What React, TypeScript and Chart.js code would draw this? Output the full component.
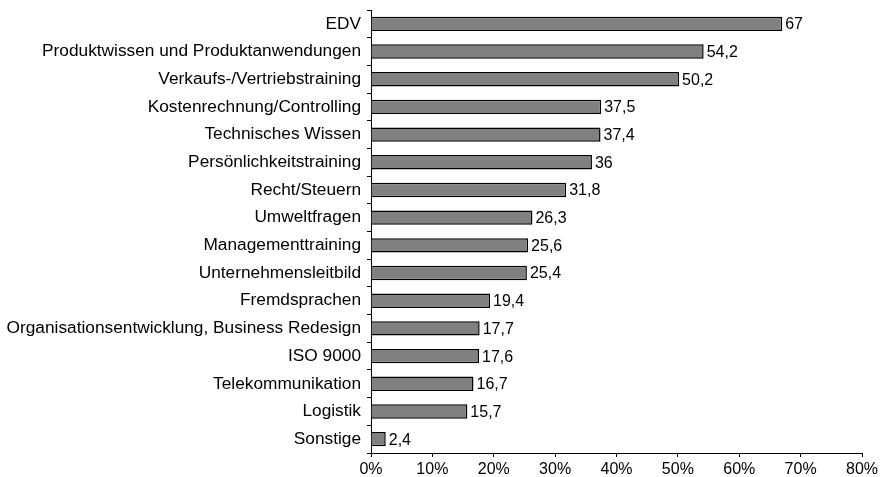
import React, { useEffect, useRef } from "react";
import { Chart, registerables } from "chart.js";

Chart.register(...registerables);

const categories = [
  "EDV",
  "Produktwissen und Produktanwendungen",
  "Verkaufs-/Vertriebstraining",
  "Kostenrechnung/Controlling",
  "Technisches Wissen",
  "Persönlichkeitstraining",
  "Recht/Steuern",
  "Umweltfragen",
  "Managementtraining",
  "Unternehmensleitbild",
  "Fremdsprachen",
  "Organisationsentwicklung, Business Redesign",
  "ISO 9000",
  "Telekommunikation",
  "Logistik",
  "Sonstige",
];

const values = [67, 54.2, 50.2, 37.5, 37.4, 36, 31.8, 26.3, 25.6, 25.4, 19.4, 17.7, 17.6, 16.7, 15.7, 2.4];

const xTicks = [0, 10, 20, 30, 40, 50, 60, 70, 80];

const FONT = "'Liberation Sans', Arial, sans-serif";

const valueLabels = {
  id: "valueLabels",
  afterDatasetsDraw(chart: any) {
    const ctx = chart.ctx;
    const meta = chart.getDatasetMeta(0);
    ctx.save();
    ctx.font = `16px ${FONT}`;
    ctx.fillStyle = "#000";
    ctx.textAlign = "left";
    ctx.textBaseline = "middle";
    meta.data.forEach((bar: any, i: number) => {
      const txt = String(values[i]).replace(".", ",");
      ctx.fillText(txt, bar.x + 3, bar.y + 1);
    });
    ctx.restore();
  },
};

export default function App() {
  const ref = useRef<HTMLCanvasElement>(null);
  useEffect(() => {
    document.body.style.margin = "0";
    const chart = new Chart(ref.current!, {
      type: "bar",
      data: {
        labels: categories,
        datasets: [
          {
            data: values,
            backgroundColor: "#808080",
            borderColor: "#000",
            borderWidth: 1.5,
            barPercentage: 0.52,
            categoryPercentage: 1,
          },
        ],
      },
      options: {
        indexAxis: "y",
        animation: false,
        responsive: false,
        layout: { padding: { left: 0, right: 22, top: 10, bottom: 0 } },
        plugins: { legend: { display: false }, tooltip: { enabled: false } },
        scales: {
          x: {
            min: 0,
            max: 80,
            afterBuildTicks: (s: any) => {
              s.ticks = xTicks.map((v) => ({ value: v }));
            },
            afterFit: (s: any) => {
              s.height = 24;
            },
            grid: { drawOnChartArea: false, drawTicks: true, tickLength: 4, color: "#000" },
            border: { color: "#000", width: 1 },
            ticks: {
              color: "#000",
              padding: 3,
              maxRotation: 0,
              font: { family: FONT, size: 16 },
              callback: (v: any) => v + "%",
            },
          },
          y: {
            afterFit: (s: any) => {
              s.width = 371;
              s.paddingTop = 0;
              s.paddingBottom = 0;
            },
            grid: { drawOnChartArea: false, drawTicks: true, tickLength: 4, color: "#000", offset: true },
            border: { color: "#000", width: 1 },
            ticks: {
              color: "#000",
              padding: 6,
              autoSkip: false,
              font: { family: FONT, size: 17.3 },
            },
          },
        },
      },
      plugins: [valueLabels],
    });
    return () => chart.destroy();
  }, []);
  return (
    <div style={{ width: 884, height: 477 }}>
      <canvas ref={ref} width={884} height={477} style={{ display: "block" }} />
    </div>
  );
}
